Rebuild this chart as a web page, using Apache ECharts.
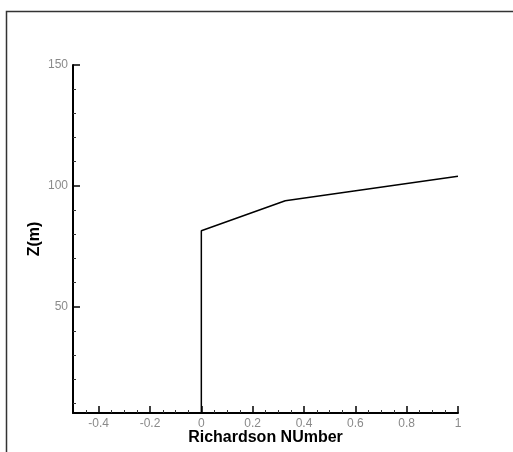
<!DOCTYPE html>
<html>
<head>
<meta charset="utf-8">
<script src="https://cdn.jsdelivr.net/npm/echarts@6/dist/echarts.min.js"></script>
<style>
html, body { margin: 0; padding: 0; background: #fff; }
#chart { width: 513px; height: 452px; }
</style>
</head>
<body>
<div id="chart"></div>
<script>
// Richardson number profile
var richardson = [0, 0, 0.327, 1];
var heightZ = [6, 81.4, 93.8, 104];
var xMajorTicks = [-0.4, -0.2, 0, 0.2, 0.4, 0.6, 0.8, 1];
var xMinorTicks = [-0.45, -0.35, -0.3, -0.25, -0.15, -0.1, -0.05, 0.05, 0.1, 0.15, 0.25, 0.3, 0.35,
	0.45, 0.5, 0.55, 0.65, 0.7, 0.75, 0.85, 0.9, 0.95];
var yMajorTicks = [50, 100, 150];
var yMinorTicks = [10, 20, 30, 40, 60, 70, 80, 90, 110, 120, 130, 140];

var chart = echarts.init(document.getElementById('chart'));
var points = [];
for (var i = 0; i < richardson.length; i++) {
	points.push([richardson[i], heightZ[i]]);
}
var labelStyle = { color: '#8a8a8a', fontSize: 12, fontFamily: 'Liberation Sans' };
var nameStyle = { color: '#000', fontSize: 16, fontWeight: 'bold', fontFamily: 'Liberation Sans' };

var option = {
	animation: false,
	backgroundColor: '#fff',
	graphic: [{
		type: 'rect',
		shape: { x: 6.5, y: 11.5, width: 520, height: 460 },
		style: { fill: 'none', stroke: '#333', lineWidth: 1.5 }
	}],
	grid: { left: 73, right: 55, top: 65, bottom: 39, outerBoundsMode: 'none', containLabel: false },
	xAxis: [{
		type: 'value',
		min: -0.5,
		max: 1,
		position: 'bottom',
		name: 'Richardson NUmber',
		nameLocation: 'middle',
		nameGap: 17,
		nameMoveOverlap: false,
		nameTextStyle: nameStyle,
		splitLine: { show: false },
		axisLine: { onZero: false, lineStyle: { color: '#000', width: 2 } },
		axisTick: { inside: true, length: 7, customValues: xMajorTicks, lineStyle: { color: '#000', width: 1.5 } },
		axisLabel: Object.assign({ margin: 5, customValues: xMajorTicks }, labelStyle)
	}, {
		type: 'value',
		min: -0.5,
		max: 1,
		position: 'bottom',
		splitLine: { show: false },
		axisLine: { show: false, onZero: false },
		axisTick: { inside: true, length: 3, customValues: xMinorTicks, lineStyle: { color: '#333' } },
		axisLabel: { show: false }
	}],
	yAxis: [{
		type: 'value',
		min: 6,
		max: 150,
		position: 'left',
		name: 'Z(m)',
		nameLocation: 'middle',
		nameGap: 30,
		nameMoveOverlap: false,
		nameTextStyle: nameStyle,
		splitLine: { show: false },
		axisLine: { show: true, onZero: false, lineStyle: { color: '#000', width: 2 } },
		axisTick: { show: true, inside: true, length: 7, customValues: yMajorTicks, lineStyle: { color: '#000', width: 1.5 } },
		axisLabel: Object.assign({ margin: 5, customValues: yMajorTicks }, labelStyle)
	}, {
		type: 'value',
		min: 6,
		max: 150,
		position: 'left',
		splitLine: { show: false },
		axisLine: { show: false, onZero: false },
		axisTick: { show: true, inside: true, length: 3, customValues: yMinorTicks, lineStyle: { color: '#333' } },
		axisLabel: { show: false }
	}],
	series: [{
		type: 'line',
		data: points,
		showSymbol: false,
		lineStyle: { color: '#000', width: 1.5 },
		xAxisIndex: 0,
		yAxisIndex: 0
	}]
};
chart.setOption(option);
</script>
</body>
</html>
